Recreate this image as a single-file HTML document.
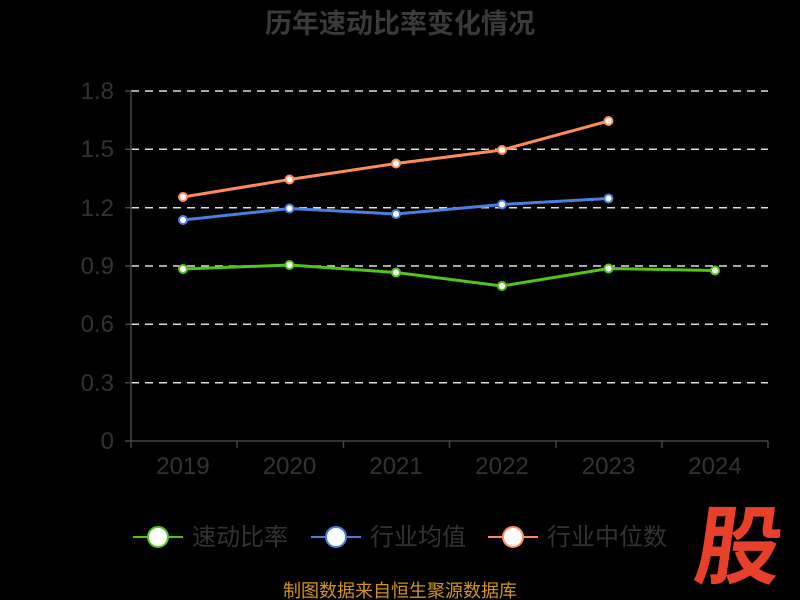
<!DOCTYPE html>
<html><head><meta charset="utf-8"><style>
body{margin:0;background:#000;width:800px;height:600px;overflow:hidden}
svg{display:block}
text{font-family:"Liberation Sans","Noto Sans CJK SC",sans-serif}
</style></head><body>
<svg width="800" height="600" viewBox="0 0 800 600">
<rect width="800" height="600" fill="#000"/>
<text x="400" y="33" text-anchor="middle" font-size="27" font-weight="bold" fill="#3a3a3a">历年速动比率变化情况</text>
<g stroke="#ddd" stroke-width="1.5" stroke-dasharray="8,6">
<line x1="131" y1="91" x2="768" y2="91"/>
<line x1="131" y1="149.3" x2="768" y2="149.3"/>
<line x1="131" y1="207.7" x2="768" y2="207.7"/>
<line x1="131" y1="266" x2="768" y2="266"/>
<line x1="131" y1="324.3" x2="768" y2="324.3"/>
<line x1="131" y1="382.7" x2="768" y2="382.7"/>
</g>
<g stroke="#444" stroke-width="1.5">
<line x1="131" y1="91" x2="131" y2="441"/>
<line x1="131" y1="441" x2="768" y2="441"/>
<line x1="125" y1="91" x2="131" y2="91"/><line x1="125" y1="149.3" x2="131" y2="149.3"/><line x1="125" y1="207.7" x2="131" y2="207.7"/><line x1="125" y1="266" x2="131" y2="266"/><line x1="125" y1="324.3" x2="131" y2="324.3"/><line x1="125" y1="382.7" x2="131" y2="382.7"/><line x1="125" y1="441" x2="131" y2="441"/>
<line x1="131" y1="441" x2="131" y2="448"/><line x1="237" y1="441" x2="237" y2="448"/><line x1="343.5" y1="441" x2="343.5" y2="448"/><line x1="449.5" y1="441" x2="449.5" y2="448"/><line x1="556" y1="441" x2="556" y2="448"/><line x1="662" y1="441" x2="662" y2="448"/><line x1="768" y1="441" x2="768" y2="448"/>
</g>
<g font-size="24" fill="#333" text-anchor="end">
<text x="114" y="99">1.8</text><text x="114" y="157">1.5</text><text x="114" y="216">1.2</text><text x="114" y="274">0.9</text><text x="114" y="332">0.6</text><text x="114" y="391">0.3</text><text x="114" y="449">0</text>
</g>
<g font-size="24" fill="#333" text-anchor="middle">
<text x="183" y="474">2019</text><text x="289.5" y="474">2020</text><text x="396" y="474">2021</text><text x="502" y="474">2022</text><text x="608.5" y="474">2023</text><text x="715" y="474">2024</text>
</g>
<g stroke-width="3" fill="none">
<polyline stroke="#ff8c55" points="183,197 289.5,179.5 396,163.5 502,150 608.5,121"/>
<polyline stroke="#4a7fe0" points="183,220 289.5,208.5 396,214 502,204.5 608.5,198.5"/>
<polyline stroke="#52c41a" points="183,269 289.5,265 396,272.5 502,286 608.5,268.5 715,270.5"/>
</g>
<g fill="#fff" stroke-width="2">
<g stroke="#ff8c55"><circle cx="183" cy="197" r="4"/><circle cx="289.5" cy="179.5" r="4"/><circle cx="396" cy="163.5" r="4"/><circle cx="502" cy="150" r="4"/><circle cx="608.5" cy="121" r="4"/></g>
<g stroke="#4a7fe0"><circle cx="183" cy="220" r="4"/><circle cx="289.5" cy="208.5" r="4"/><circle cx="396" cy="214" r="4"/><circle cx="502" cy="204.5" r="4"/><circle cx="608.5" cy="198.5" r="4"/></g>
<g stroke="#52c41a"><circle cx="183" cy="269" r="4"/><circle cx="289.5" cy="265" r="4"/><circle cx="396" cy="272.5" r="4"/><circle cx="502" cy="286" r="4"/><circle cx="608.5" cy="268.5" r="4"/><circle cx="715" cy="270.5" r="4"/></g>
</g>
<g stroke-width="2">
<line x1="133" y1="537" x2="183" y2="537" stroke="#52c41a"/><circle cx="158" cy="537" r="10" fill="#fff" stroke="#52c41a"/>
<line x1="311" y1="537" x2="361" y2="537" stroke="#4a7fe0"/><circle cx="336" cy="537" r="10" fill="#fff" stroke="#4a7fe0"/>
<line x1="488" y1="537" x2="538" y2="537" stroke="#ff8c55"/><circle cx="513" cy="537" r="10" fill="#fff" stroke="#ff8c55"/>
</g>
<g font-size="24" fill="#333">
<text x="192" y="545">速动比率</text><text x="370" y="545">行业均值</text><text x="547" y="545">行业中位数</text>
</g>
<text x="400" y="597" text-anchor="middle" font-size="18" fill="#d4951a">制图数据来自恒生聚源数据库</text>
<text x="0" y="0" text-anchor="middle" font-size="86" font-weight="bold" fill="#e8402a" transform="translate(735,577) skewX(-8)">股</text>
</svg>
</body></html>
